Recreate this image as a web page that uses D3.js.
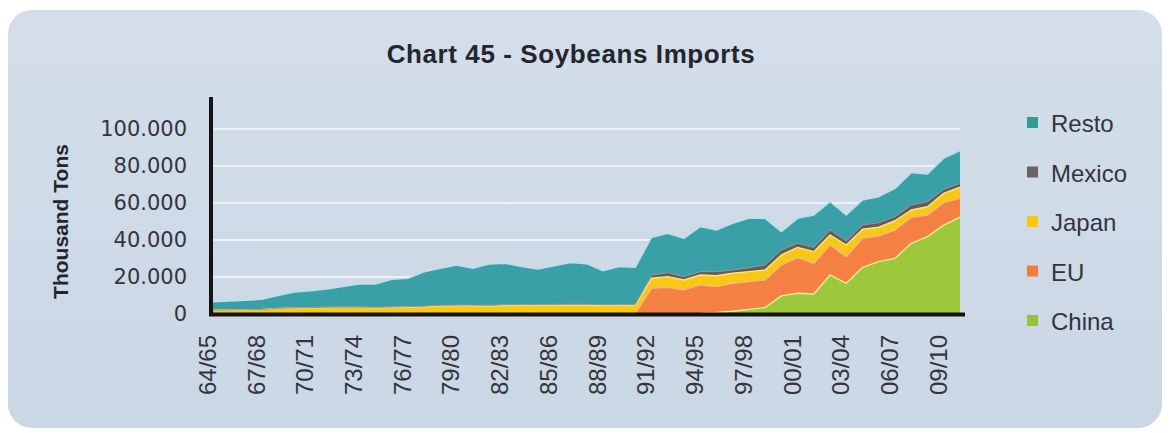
<!DOCTYPE html>
<html>
<head>
<meta charset="utf-8">
<script src="https://cdn.jsdelivr.net/npm/d3@7"></script>
<style>
  html, body { margin: 0; padding: 0; background: #ffffff; }
  svg { display: block; }
</style>
</head>
<body>
<svg id="chart" width="1170" height="433"></svg>
<script>
// ---------------- DATA (thousand tons) ----------------
const years = ["64/65","65/66","66/67","67/68","68/69","69/70","70/71","71/72","72/73","73/74",
  "74/75","75/76","76/77","77/78","78/79","79/80","80/81","81/82","82/83","83/84",
  "84/85","85/86","86/87","87/88","88/89","89/90","90/91","91/92","92/93","93/94",
  "94/95","95/96","96/97","97/98","98/99","99/00","00/01","01/02","02/03","03/04",
  "04/05","05/06","06/07","07/08","08/09","09/10","10/11"];

const tickLabels = ["64/65","67/68","70/71","73/74","76/77","79/80","82/83","85/86",
  "88/89","91/92","94/95","97/98","00/01","03/04","06/07","09/10"];

const china = [0,0,0,0,0,0,0,0,0,0,
  0,0,0,0,0,0,0,0,0,0,
  0,0,0,0,0,0,0,0,0,0,
  300,800,1500,2500,3500,9800,11200,10800,21100,16600,
  25200,28300,30100,38200,41800,48100,52300];

const eu = [0,0,0,0,0,0,0,0,0,0,
  0,0,0,0,0,0,0,0,0,0,
  0,0,0,0,0,0,0,13900,14400,13000,
  15400,14000,15100,15000,14900,16700,19300,16600,16200,14400,
  15700,13900,15300,14100,11700,12100,10200];

const japan = [2000,2200,2300,2400,3000,3300,3400,3500,3600,3600,
  3400,3600,3800,3900,4400,4500,4500,4300,4600,4700,
  4800,4800,4900,4900,4600,4700,4700,5400,5800,5400,
  5400,5900,5400,5400,5400,5400,5500,6300,5400,6300,
  4900,4700,5000,3900,4500,5000,6000];

const mexico = [0,0,0,0,0,100,100,100,100,100,
  200,200,200,300,300,300,300,400,400,400,
  400,400,400,400,400,400,400,1700,2100,1800,
  1800,2200,1800,2100,2700,2700,2200,2300,2700,2200,
  2300,2400,2200,2700,2700,2200,2100];

const resto = [4600,4800,5100,5500,7000,8400,9100,9900,11100,12500,
  12600,14900,15300,18600,20000,21700,19900,22300,22400,20500,
  19100,20800,22500,21900,18400,20500,20100,20300,21300,20700,
  24300,22500,25200,26700,25200,9900,13500,17500,15300,14000,
  13500,14100,15300,17500,15000,16800,17700];

const seriesNames = ["China","EU","Japan","Mexico","Resto"];
const legendOrder = ["Resto","Mexico","Japan","EU","China"];
const yTicks = [0,20000,40000,60000,80000,100000];

// ---------------- STYLE ----------------
const fill = { China:"#9dc83c", EU:"#f48044", Japan:"#f9c814", Mexico:"#665a58", Resto:"#3aa0a8" };
const edge = { China:"#e4ec9a", EU:"#f8b48a", Japan:"#fbe58a", Mexico:"#9a9090", Resto:"#b4e2ee" };
const legendFill = { China:"#93c43a", EU:"#f57a3c", Japan:"#fbc70a", Mexico:"#6c6262", Resto:"#2f9c94" };

const svg = d3.select("#chart");
const W = 1170, H = 433;

// panel
const defs = svg.append("defs");
const grad = defs.append("linearGradient").attr("id","panelGrad").attr("x1","0").attr("y1","0").attr("x2","0").attr("y2","1");
grad.append("stop").attr("offset","0%").attr("stop-color","#d3deea");
grad.append("stop").attr("offset","100%").attr("stop-color","#cad7e4");
svg.append("rect").attr("x",8).attr("y",10).attr("width",1154).attr("height",418)
  .attr("rx",24).attr("ry",24).attr("fill","url(#panelGrad)");

// scales
const x = d3.scalePoint().domain(years).range([213, 960]);
const y = d3.scaleLinear().domain([0, 120000]).range([314, 92]);

const locale = d3.formatLocale({ decimal: ",", thousands: ".", grouping: [3], currency: ["", ""] });
const fmt = locale.format(",");

// gridlines
svg.append("g").selectAll("line").data(yTicks.filter(d => d > 0)).join("line")
  .attr("x1", 213).attr("x2", 960)
  .attr("y1", d => y(d)).attr("y2", d => y(d))
  .attr("stroke", "#edf2f7").attr("stroke-width", 2.2);

// stacked data
const rows = years.map((yr, i) => ({
  year: yr, China: china[i], EU: eu[i], Japan: japan[i], Mexico: mexico[i], Resto: resto[i]
}));
const stacked = d3.stack().keys(seriesNames)(rows);

const area = d3.area()
  .x(d => x(d.data.year))
  .y0(d => y(d[0]))
  .y1(d => y(d[1]));
const topLine = d3.line()
  .x(d => x(d.data.year))
  .y(d => y(d[1]));

const gArea = svg.append("g");
gArea.selectAll("path.area").data(stacked).join("path")
  .attr("class","area")
  .attr("d", area)
  .attr("fill", s => fill[s.key]);

gArea.selectAll("path.edge").data(stacked).join("path")
  .attr("class","edge")
  .attr("d", s => topLine(s))
  .attr("fill","none")
  .attr("stroke", s => edge[s.key])
  .attr("stroke-width", s => s.key === "Mexico" ? 1 : 1.4)
  .attr("stroke-linejoin","round");

// y axis labels
const yAxis = svg.append("g").attr("transform","translate(211,0)")
  .call(d3.axisLeft(y).tickValues(yTicks).tickSize(0).tickPadding(24).tickFormat(fmt));
yAxis.select(".domain").remove();
yAxis.selectAll("text")
  .attr("font-family","'DejaVu Sans', sans-serif")
  .attr("font-size", 21)
  .attr("fill","#33343c");

// x axis labels
const xAxis = svg.append("g").attr("transform","translate(0,314)")
  .call(d3.axisBottom(x).tickValues(tickLabels).tickSize(0));
xAxis.select(".domain").remove();
xAxis.selectAll("text")
  .attr("font-family","'Liberation Sans', Arial, sans-serif")
  .attr("font-size", 24)
  .attr("fill","#33343c")
  .attr("text-anchor","end")
  .attr("transform","rotate(-90)")
  .attr("x", -21)
  .attr("y", -6)
  .attr("dy","0.35em");

// axis lines
svg.append("line").attr("x1",211).attr("x2",211).attr("y1",97).attr("y2",316)
  .attr("stroke","#141414").attr("stroke-width",4);
svg.append("line").attr("x1",209).attr("x2",965).attr("y1",314.5).attr("y2",314.5)
  .attr("stroke","#141414").attr("stroke-width",4);

// title
svg.append("text").attr("x", 571).attr("y", 63)
  .attr("text-anchor","middle")
  .attr("font-family","'Liberation Sans', Arial, sans-serif")
  .attr("font-weight","bold").attr("font-size", 26)
  .attr("letter-spacing", 0.6)
  .attr("fill","#25252d")
  .text("Chart 45 - Soybeans Imports");

// y title
svg.append("text").attr("transform","translate(68,221.5) rotate(-90)")
  .attr("text-anchor","middle")
  .attr("font-family","'Liberation Sans', Arial, sans-serif")
  .attr("font-weight","bold").attr("font-size", 21)
  .attr("fill","#25252d")
  .text("Thousand Tons");

// legend
const lg = svg.append("g");
const legendBase = d3.scalePoint().domain(legendOrder).range([132, 330]);
const items = lg.selectAll("g").data(legendOrder).join("g")
  .attr("transform", d => `translate(0,${legendBase(d)})`);
items.append("rect").attr("x",1027).attr("y",-15).attr("width",11).attr("height",11)
  .attr("fill", d => legendFill[d]);
items.append("text").attr("x",1051).attr("y",0)
  .attr("font-family","'Liberation Sans', Arial, sans-serif")
  .attr("font-size", 24)
  .attr("fill","#33343c")
  .text(d => d);
</script>
</body>
</html>
